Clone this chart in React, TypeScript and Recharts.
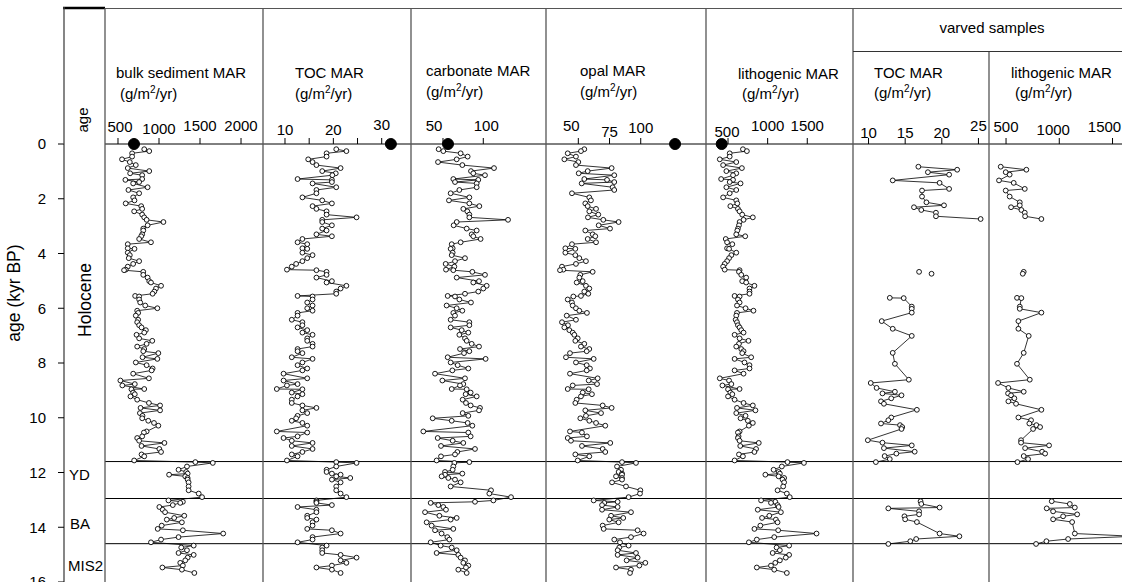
import React from 'react';
import { ComposedChart, Line, XAxis, YAxis, ReferenceLine, ReferenceDot } from 'recharts';

const FONT = '"Liberation Sans", Arial, Helvetica, sans-serif';
const W = 1122;
const H = 582;
const AXIS_Y = 144;
const AXIS_H = 40;

// ---------- data ----------
const ageTicks = [0, 2, 4, 6, 8, 10, 12, 14, 16];
const periodBoundaries = [11.6, 12.95, 14.6];
const periodNames = ['YD', 'BA', 'MIS2'];

// sample ages (kyr BP) of the bulk core profiles
const ages = [
  0.19, 0.26, 0.34, 0.46, 0.56, 0.66, 0.77, 0.88, 0.99, 1.07,
  1.14, 1.28, 1.31, 1.39, 1.44, 1.58, 1.68, 1.80, 1.95, 2.06,
  2.17, 2.27, 2.37, 2.46, 2.58, 2.68, 2.77, 2.85, 2.97, 3.09,
  3.16, 3.30, 3.37, 3.47, 3.59, 3.66, 3.81, 3.83, 3.97, 4.06,
  4.17, 4.28, 4.38, 4.48, 4.59, 4.61, 4.67, 4.78, 4.88, 5.01,
  5.06, 5.18, 5.28, 5.39, 5.47, 5.55, 5.57, 5.68, 5.79, 5.90,
  6.00, 6.09, 6.17, 6.27, 6.42, 6.51, 6.62, 6.70, 6.80, 6.89,
  6.97, 7.10, 7.19, 7.30, 7.40, 7.49, 7.57, 7.64, 7.79, 7.85,
  7.98, 8.08, 8.20, 8.27, 8.39, 8.56, 8.64, 8.77, 8.82, 8.95,
  8.96, 9.08, 9.14, 9.22, 9.34, 9.46, 9.55, 9.64, 9.73, 9.83,
  9.93, 10.02, 10.11, 10.19, 10.29, 10.50, 10.54, 10.68, 10.74, 10.84,
  10.92, 11.03, 11.14, 11.25, 11.34, 11.41, 11.56,
  11.62, 11.65, 11.78, 11.90, 11.98, 12.04, 12.08, 12.14, 12.20, 12.26, 12.36, 12.51, 12.65, 12.77, 12.90,
  13.02, 13.07, 13.11, 13.19, 13.26, 13.36, 13.45, 13.58, 13.66, 13.72, 13.82, 13.94, 14.06, 14.11, 14.23, 14.36, 14.45, 14.55,
  14.67, 14.74, 14.84, 14.94, 15.01, 15.11, 15.21, 15.30, 15.40, 15.47, 15.55, 15.67,
];

const bulkMAR = [
  820, 881, 672, 672, 549, 644, 717, 619, 881, 648,
  795, 795, 590, 758, 685, 861, 627, 758, 685, 701,
  594, 783, 795, 697, 795, 820, 849, 1054, 861, 808,
  808, 795, 783, 758, 902, 619, 619, 701, 619, 644,
  631, 758, 685, 619, 594, 574, 808, 808, 861, 881,
  902, 1025, 963, 943, 922, 709, 758, 758, 771, 832,
  980, 734, 746, 717, 746, 734, 758, 787, 840, 820,
  726, 758, 918, 849, 734, 820, 808, 992, 799, 980,
  717, 849, 922, 910, 685, 877, 529, 705, 553, 820,
  664, 685, 705, 652, 734, 877, 1013, 775, 1013, 767,
  799, 795, 869, 939, 992, 849, 816, 795, 734, 758,
  1066, 787, 1004, 1025, 787, 820, 697,
  1443, 1656, 1341, 1238, 1332, 1349, 1123, 1320, 1349, 1349, 1361, 1361, 1361, 1484, 1525,
  1115, 1291, 1259, 1168, 1004, 1045, 1074, 1308, 1185, 1095, 1279, 1033, 984, 1291, 1783, 1238, 1025, 902,
  1423, 1271, 1341, 1238, 1423, 1349, 1320, 1259, 1291, 1041, 1279, 1431,
];

const tocMAR = [
  20.6, 22.7, 18.6, 18.6, 14.8, 15.7, 16.5, 21.5, 17.7, 20.5,
  19.8, 12.6, 19.7, 19.7, 15.7, 20.6, 16.5, 16.5, 13.6, 17.7,
  19.7, 15.7, 16.5, 18.6, 18.6, 24.8, 17.7, 17.7, 19.7, 17.7,
  18.6, 16.5, 19.7, 13.6, 12.6, 14.6, 13.6, 14.6, 13.6, 15.7,
  14.6, 13.6, 12.3, 11.4, 10.4, 16.5, 18.6, 18.6, 16.5, 19.7,
  18.6, 22.7, 21.5, 20.6, 20.6, 12.6, 15.7, 15.7, 14.6, 15.7,
  14.6, 15.7, 12.6, 12.6, 11.4, 13.6, 13.6, 12.6, 14.6, 13.6,
  15.7, 14.6, 14.6, 15.7, 15.7, 12.6, 12.6, 13.6, 11.4, 15.7,
  13.6, 12.6, 14.6, 13.6, 9.7, 14.6, 9.7, 12.6, 10.4, 8.3,
  13.6, 11.4, 13.6, 12.6, 11.4, 11.4, 13.6, 16.5, 13.6, 14.6,
  12.6, 12.3, 11.4, 13.6, 14.6, 8.3, 14.6, 12.6, 9.7, 11.4,
  15.7, 11.4, 15.7, 13.6, 11.4, 12.6, 10.4,
  20.6, 24.8, 20.6, 18.6, 18.6, 19.7, 21.5, 20.6, 23.5, 19.7, 21.5, 20.6, 20.6, 21.5, 22.7,
  16.5, 16.5, 16.5, 19.7, 12.6, 16.5, 16.5, 14.6, 14.6, 16.5, 15.7, 15.7, 14.6, 19.7, 21.5, 15.7, 15.7, 12.6,
  18.6, 17.7, 17.7, 17.7, 21.5, 24.8, 21.5, 22.7, 19.7, 16.5, 19.7, 21.5,
];

const carbonateMAR = [
  44.6, 50.4, 71.9, 80.6, 67, 43.8, 74, 113.3, 84.7, 87.6,
  102.1, 62.8, 93.8, 64.9, 91.8, 91.8, 70.3, 59.5, 82.7, 57.4,
  82.7, 95.1, 75.2, 80.2, 82.7, 82.7, 130.7, 67, 63.2, 79.4,
  91.8, 85.6, 87.6, 96.7, 71.9, 60.8, 62, 59.5, 62, 60.8,
  77.3, 64.9, 53.3, 64.1, 53.7, 62.8, 86.4, 102.1, 67, 94.7,
  87.6, 104.2, 100, 93.8, 77.3, 55.8, 64.9, 70.3, 84.7, 54.5,
  67, 74, 62.8, 64.9, 59.5, 82.7, 82.7, 59.5, 73.2, 81.4,
  70.3, 77.3, 79.4, 85.6, 94.7, 71.1, 82.7, 76.1, 55.8, 102.9,
  59.5, 68.2, 81.4, 61.6, 40.1, 77.3, 49.2, 75.2, 71.1, 60.8,
  79.4, 84.3, 78.1, 91.8, 74.4, 78.5, 84.3, 95.9, 94.7, 74.4,
  81.4, 37.2, 60.8, 80.6, 86.4, 25.6, 81.4, 84.3, 43.4, 62,
  75.2, 47.5, 89.7, 67.8, 64.9, 47.5, 42.1,
  82.7, 64.1, 62.8, 62, 52.5, 74, 52.5, 48.3, 56.6, 64.9, 71.9, 59.5, 109.6, 107.5, 134.4,
  112.5, 89.7, 34.7, 44.2, 50.4, 53.7, 27.7, 45.5, 67, 59.5, 29.7, 35.9, 62.8, 40.1, 48.3, 55.4, 57.9, 34.7,
  47.1, 60.8, 67, 42.1, 69, 71.9, 77.3, 75.2, 81.4, 78.5, 69, 79.4,
];

const opalMAR = [
  54.8, 52.1, 41.5, 48.1, 38.8, 50, 48.1, 76.7, 57.5, 50.3,
  78.8, 54.8, 73, 78.8, 52.7, 77.5, 78.8, 44.9, 58.8, 60.1,
  55.6, 57.5, 64.2, 58.8, 66, 57.7, 70, 82.3, 66.3, 75.4,
  55.6, 61.5, 63.6, 57.5, 64.2, 44.9, 39.6, 47.6, 39.6, 47.6,
  50.8, 56.1, 48.1, 36.9, 38, 35.3, 61.5, 51.6, 50.8, 53.5,
  48.7, 56.1, 58.8, 54.8, 58, 52.1, 46, 41.5, 44.9, 45.5,
  48.1, 50.8, 56.9, 40.7, 48.1, 36.9, 41.7, 38.8, 42.8, 45.5,
  46.8, 49.5, 47.6, 54.8, 52.1, 58.8, 56.7, 43.3, 40.1, 62.3,
  48.1, 56.7, 59.3, 56.7, 43.3, 65.5, 58.3, 65, 45.5, 41.5,
  58.3, 53.5, 60.9, 52.1, 48.7, 47.6, 69.5, 76.7, 55.6, 68.2,
  56.1, 51.6, 58.8, 64.2, 71.6, 43.3, 52.9, 56.9, 41.5, 44.1,
  75.6, 52.9, 69.5, 71.6, 47.6, 58.8, 49.5,
  85, 96.2, 81, 84.2, 82.3, 85, 85, 80.2, 85, 85, 77, 88.2, 99.7, 99.4, 90.3,
  62.3, 81.5, 70.8, 69, 81.5, 69, 92.2, 76.2, 86, 74.8, 82.3, 69.5, 70.3, 97.5, 102.3, 92.2, 78.8, 83.4,
  90.3, 82.8, 81.5, 96.2, 81.5, 97.5, 88.7, 103.7, 98.9, 80.2, 92.2, 91.4,
];

const lithogenicMAR = [
  688, 738, 521, 521, 396, 604, 438, 675, 479, 604,
  563, 413, 563, 521, 658, 479, 604, 521, 438, 604,
  617, 529, 625, 646, 679, 813, 696, 646, 638, 625,
  617, 604, 717, 471, 488, 554, 488, 513, 604, 542,
  513, 488, 458, 438, 458, 646, 638, 667, 729, 679,
  729, 833, 771, 771, 771, 583, 646, 625, 646, 613,
  721, 821, 613, 604, 596, 613, 625, 646, 667, 696,
  583, 646, 758, 638, 604, 667, 696, 679, 792, 583,
  708, 771, 771, 583, 696, 396, 513, 542, 429, 646,
  500, 529, 554, 500, 583, 696, 813, 613, 846, 604,
  721, 658, 750, 813, 763, 646, 625, 633, 625, 646,
  888, 654, 854, 833, 638, 688, 583,
  1250, 1458, 1179, 1075, 1138, 1154, 971, 1138, 1208, 1188, 1208, 1196, 1125, 1242, 1279,
  917, 1096, 1042, 1125, 1138, 875, 1167, 1021, 929, 1104, 1125, 908, 833, 1133, 1617, 1083, 863, 763,
  1271, 1113, 1154, 1063, 1271, 1229, 1154, 1096, 1042, 863, 1083, 1242,
];

// core-top values (filled dots at 0 kyr): bulk, TOC, carbonate, opal, lithogenic
const coreTopValues = [695, 31.9, 56.2, 127.5, 420];

// varved samples; section ids separate the unconnected parts of the record
const varvedAges = [
  0.83, 0.94, 1.03, 1.12, 1.33, 1.42, 1.64, 1.70, 1.92, 2.13, 2.24, 2.31, 2.41, 2.51, 2.64, 2.74,
  4.67, 4.74,
  5.62, 5.63, 5.94, 6.02, 6.16, 6.47, 6.75, 7.01, 7.63, 8.03,
  8.61, 8.73, 8.91, 9.05, 9.11, 9.18, 9.29, 9.40, 9.49, 9.71,
  9.99, 10.09, 10.21, 10.27, 10.34, 10.41, 10.82, 10.91, 11.01, 11.11,
  11.24, 11.31, 11.40, 11.51, 11.62,
  13.05, 13.15, 13.28, 13.31, 13.42, 13.53, 13.60, 13.71, 13.81, 14.23, 14.33, 14.43, 14.51, 14.61,
];

const varvedSections = [
  0, 0, 0, 0, 0, 0, 0, 0, 0, 0, 0, 0, 0, 0, 0, 0,
  1, 2,
  3, 3, 3, 3, 3, 3, 3, 3, 3, 3,
  3, 3, 3, 3, 3, 3, 3, 3, 3, 3,
  3, 3, 3, 3, 3, 3, 3, 3, 3, 3,
  3, 3, 3, 3, 3,
  4, 4, 4, 4, 4, 4, 4, 4, 4, 4, 4, 4, 4, 4,
];

const varvedTocMAR = [
  16.8, 22.1, 18.1, 21.0, 13.3, 19.7, 21.0, 17.3, 17.3, 17.9, 20.3, 16.2, 17.2, 19.2, 19.2, 25.3,
  16.9, 18.6,
  12.9, 14.8, 15.9, 15.9, 15.9, 11.8, 13.3, 15.9, 13.3, 13.6,
  15.5, 10.3, 11.1, 13.6, 11.9, 14.5, 13.1, 11.7, 12.1, 16.6,
  13.1, 12.7, 11.7, 14.3, 14.6, 14.5, 9.9, 11.9, 15.9, 12.1,
  16.3, 13.8, 12.2, 12.9, 11.0,
  17.1, 17.2, 19.7, 12.7, 16.9, 16.9, 14.9, 15.0, 16.6, 19.7, 22.4, 16.5, 15.7, 12.7,
];

const varvedLithogenicMAR = [
  450, 691, 497, 534, 434, 572, 676, 497, 534, 629, 629, 547, 644, 676, 679, 832,
  666, 657,
  603, 644, 629, 629, 832, 616, 616, 713, 666, 603,
  723, 425, 522, 666, 519, 547, 578, 522, 594, 832,
  616, 735, 719, 785, 820, 754, 641, 641, 904, 679,
  839, 867, 666, 707, 607,
  929, 1099, 1146, 882, 942, 1168, 1036, 942, 1121, 1146, 1700, 1083, 879, 782,
];

const bulkTicks = [500, 1000, 1500, 2000];
const tocTicks = [10, 15, 20, 25, 30];
const tocTickLabels = [10, 20, 30];
const carbonateTicks = [50, 100];
const opalTicks = [50, 75, 100];
const lithoTicks = [500, 1000, 1500];
const varvedTocTicks = [10, 15, 20, 25];
const varvedLithoTicks = [500, 1000, 1500];

const mainData = ages.map((age, i) => ({
  age,
  bulk_0: bulkMAR[i] ?? null,
  toc_0: tocMAR[i] ?? null,
  carbonate_0: carbonateMAR[i] ?? null,
  opal_0: opalMAR[i] ?? null,
  litho_0: lithogenicMAR[i] ?? null,
}));

const varvedSectionIds = [0, 1, 2, 3, 4];
const varvedData = varvedAges.map((age, i) => {
  const row: Record<string, number | null> = { age };
  varvedSectionIds.forEach((s) => {
    row[`vToc_${s}`] = varvedSections[i] === s ? varvedTocMAR[i] : null;
    row[`vLitho_${s}`] = varvedSections[i] === s ? varvedLithogenicMAR[i] : null;
  });
  return row;
});

const ageAxisData = ageTicks.map((age) => ({ age }));

// ---------- layout (styles / positions) ----------
type PanelSpec = {
  key: string;
  left: number;
  right: number;
  domain: [number, number];
  ticks: number[];
  labelled: number[];
  offsets: Record<number, [number, number]>;
  data: any[];
  sections: number[];
  top: number | null;
};

const panels: PanelSpec[] = [
  { key: 'bulk', left: 105, right: 263, domain: [341.5, 2268], ticks: bulkTicks, labelled: bulkTicks,
    offsets: { 500: [2, -1], 1000: [0, 1], 1500: [0, -2], 2000: [0, -2] }, data: mainData, sections: [0], top: coreTopValues[0] },
  { key: 'toc', left: 263, right: 411, domain: [5.45, 36.06], ticks: tocTicks, labelled: tocTickLabels,
    offsets: { 10: [0, 2], 20: [0, 2], 30: [0, -3] }, data: mainData, sections: [0], top: coreTopValues[1] },
  { key: 'carbonate', left: 411, right: 546, domain: [10.3, 177.8], ticks: carbonateTicks, labelled: carbonateTicks,
    offsets: { 50: [-9, -2], 100: [3, -2] }, data: mainData, sections: [0], top: coreTopValues[2] },
  { key: 'opal', left: 546, right: 706, domain: [24.1, 152.3], ticks: opalTicks, labelled: opalTicks,
    offsets: { 50: [-7, -2], 75: [0, 4], 100: [0, 0] }, data: mainData, sections: [0], top: coreTopValues[3] },
  { key: 'litho', left: 706, right: 853, domain: [222, 2077], ticks: lithoTicks, labelled: lithoTicks,
    offsets: { 500: [-1, 4], 1000: [0, -2], 1500: [0, -2] }, data: mainData, sections: [0], top: coreTopValues[4] },
  { key: 'vToc', left: 853, right: 989, domain: [7.88, 26.44], ticks: varvedTocTicks, labelled: varvedTocTicks,
    offsets: { 10: [0, 5], 15: [0, 5], 20: [0, 5], 25: [0, -2] }, data: varvedData, sections: varvedSectionIds, top: null },
  { key: 'vLitho', left: 989, right: 1122, domain: [340, 1589], ticks: varvedLithoTicks, labelled: varvedLithoTicks,
    offsets: { 500: [0, -1], 1000: [-6, 2], 1500: [-8, -1] }, data: varvedData, sections: varvedSectionIds, top: null },
];

const titles = [
  { text: 'bulk sediment MAR', x: 116, y: 78, ux: 120, uy: 99 },
  { text: 'TOC MAR', x: 295, y: 78, ux: 295, uy: 99 },
  { text: 'carbonate MAR', x: 426, y: 76, ux: 426, uy: 97 },
  { text: 'opal MAR', x: 580, y: 76, ux: 580, uy: 97 },
  { text: 'lithogenic MAR', x: 738, y: 79, ux: 742, uy: 99 },
  { text: 'TOC MAR', x: 874, y: 78, ux: 874, uy: 98 },
  { text: 'lithogenic MAR', x: 1011, y: 78, ux: 1015, uy: 98 },
];

const periodLabelPos = [
  { x: 69, y: 480 },
  { x: 70, y: 529 },
  { x: 68, y: 571 },
];

const separators = [105, 263, 411, 546, 706, 853];

const AxisTick = (props: any) => {
  const { x, y, payload, show, offsets } = props;
  const v = payload?.value;
  if (!show.includes(v)) return <g />;
  const off = offsets[v] || [0, 0];
  return (
    <text x={x + off[0]} y={y + off[1]} textAnchor="middle" fontSize={15} fill="#000" fontFamily={FONT}>
      {String(v)}
    </text>
  );
};

function Panel({ p }: { p: PanelSpec }) {
  const width = p.right - p.left;
  return (
    <div style={{ position: 'absolute', left: p.left, top: 0, width, height: H }}>
      <ComposedChart
        layout="vertical"
        width={width}
        height={H}
        data={p.data}
        margin={{ top: AXIS_Y - AXIS_H, right: 0, bottom: 0, left: 0 }}
      >
        <XAxis
          type="number"
          orientation="top"
          height={AXIS_H}
          domain={p.domain}
          allowDataOverflow
          ticks={p.ticks}
          interval={0}
          tickSize={6}
          tickMargin={5}
          axisLine={{ stroke: '#000', strokeWidth: 1 }}
          tickLine={{ stroke: '#000', strokeWidth: 1 }}
          tick={(t: any) => <AxisTick {...t} show={p.labelled} offsets={p.offsets} />}
        />
        <YAxis type="number" dataKey="age" domain={[0, 16]} allowDataOverflow hide width={0} />
        {periodBoundaries.map((b) => (
          <ReferenceLine key={b} y={b} stroke="#000" strokeWidth={1} />
        ))}
        {p.sections.map((s) => (
          <Line
            key={s}
            type="linear"
            dataKey={`${p.key}_${s}`}
            stroke="#000"
            strokeWidth={0.8}
            dot={{ r: 2.4, fill: '#fff', stroke: '#000', strokeWidth: 0.9 }}
            activeDot={false}
            connectNulls
            isAnimationActive={false}
          />
        ))}
        {p.top != null && <ReferenceDot x={p.top} y={0} r={5.5} fill="#000" stroke="#000" />}
      </ComposedChart>
    </div>
  );
}

export default function App() {
  return (
    <div
      style={{
        position: 'absolute',
        left: 0,
        top: 0,
        width: W,
        height: H,
        overflow: 'hidden',
        background: '#fff',
        fontFamily: FONT,
      }}
    >
      <div style={{ position: 'absolute', left: 0, top: 0 }}>
        <ComposedChart
          layout="vertical"
          width={105}
          height={H}
          data={ageAxisData}
          margin={{ top: AXIS_Y, right: 0, bottom: 0, left: 0 }}
        >
          <XAxis type="number" hide domain={[0, 1]} />
          <YAxis
            type="number"
            dataKey="age"
            domain={[0, 16]}
            allowDataOverflow
            ticks={ageTicks}
            interval={0}
            width={64}
            tickSize={6}
            tickMargin={12}
            axisLine={{ stroke: '#444', strokeWidth: 1.3 }}
            tickLine={{ stroke: '#000' }}
            tick={{ fontSize: 15, fill: '#000', fontFamily: FONT }}
          />
          <ReferenceLine y={0} stroke="#000" strokeWidth={1} />
          {periodBoundaries.map((b) => (
            <ReferenceLine key={b} y={b} stroke="#000" strokeWidth={1} />
          ))}
        </ComposedChart>
      </div>

      {panels.map((p) => (
        <Panel key={p.key} p={p} />
      ))}

      <svg
        width={W}
        height={H}
        style={{ position: 'absolute', left: 0, top: 0, pointerEvents: 'none' }}
        fontFamily={FONT}
      >
        {/* frame */}
        <line x1={64} y1={8.5} x2={W} y2={8.5} stroke="#555" strokeWidth={1.2} />
        <line x1={63} y1={8} x2={105} y2={8} stroke="#000" strokeWidth={2.5} />
        <line x1={64} y1={7} x2={64} y2={AXIS_Y} stroke="#444" strokeWidth={1.3} />
        {separators.map((x) => (
          <line key={x} x1={x} y1={8} x2={x} y2={H} stroke="#555" strokeWidth={1.3} />
        ))}
        <line x1={989} y1={51.5} x2={989} y2={H} stroke="#555" strokeWidth={1.3} />
        <line x1={853} y1={51.5} x2={W} y2={51.5} stroke="#333" strokeWidth={1.2} />

        {/* titles */}
        <text x={992} y={33} textAnchor="middle" fontSize={15} fill="#000">varved samples</text>
        {titles.map((t, i) => (
          <g key={i}>
            <text x={t.x} y={t.y} fontSize={15} fill="#000">{t.text}</text>
            <text x={t.ux} y={t.uy} fontSize={15} fill="#000">
              (g/m<tspan fontSize={10} dy={-6}>2</tspan>
              <tspan dy={6}>/yr)</tspan>
            </text>
          </g>
        ))}

        {/* age column labels */}
        <text transform="translate(20,293) rotate(-90)" textAnchor="middle" fontSize={17.5} fill="#000">
          age (kyr BP)
        </text>
        <text transform="translate(88,120) rotate(-90)" textAnchor="middle" fontSize={15} fill="#000">
          age
        </text>
        <text transform="translate(91,300) rotate(-90)" textAnchor="middle" fontSize={17.5} fill="#000">
          Holocene
        </text>
        {periodNames.map((n, i) => (
          <text key={n} x={periodLabelPos[i].x} y={periodLabelPos[i].y} fontSize={15} fill="#000">
            {n}
          </text>
        ))}
      </svg>
    </div>
  );
}
